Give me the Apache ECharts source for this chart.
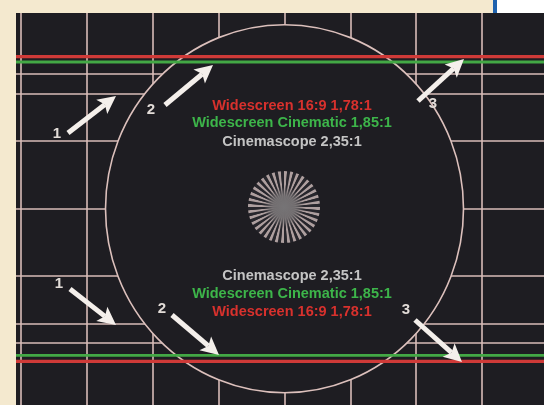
<!DOCTYPE html>
<html><head><meta charset="utf-8">
<script src="https://cdn.jsdelivr.net/npm/echarts@6/dist/echarts.min.js"></script>
<style>html,body{margin:0;padding:0;background:#f4e9cf;}#c{width:544px;height:405px;}</style>
</head><body><div id="c"></div>
<script>
// ---- data (in picture units) ----
const verticalLines = [21, 87, 153, 219, 285, 351, 416, 482];
const horizontalLines = [74, 94, 141, 209, 276, 324, 343];
const redLines = [56.7, 361.3];
const greenLines = [62, 355.3];
const frameCircle = [284.5, 208.7, 179, 184]; // cx, cy, rx, ry
const starCenter = [284, 207];
const starRadius = 36;
const starSegments = [1,1,1,1,1,1,1,1,1,1,1,1,1,1,1,1,1,1,1,1,1,1,1,1,1,1,1,1,1,1,1,1,1,1,1,1,
                      1,1,1,1,1,1,1,1,1,1,1,1,1,1,1,1,1,1,1,1,1,1,1,1,1,1,1,1,1,1,1,1,1,1,1,1];
const captionTexts = ['Widescreen 16:9 1,78:1', 'Widescreen Cinematic 1,85:1', 'Cinemascope 2,35:1',
                      'Cinemascope 2,35:1', 'Widescreen Cinematic 1,85:1', 'Widescreen 16:9 1,78:1'];
const captionX = [292, 292, 292, 292, 292, 292];
const captionY = [105.5, 123.3, 141.7, 275.5, 293.5, 311.5];
const captionColors = ['#d8312d', '#3db54a', '#c4c4c4', '#c4c4c4', '#3db54a', '#d8312d'];
const arrowLabels = ['1', '2', '3', '1', '2', '3'];
const arrowLabelX = [57, 151, 433, 59, 162, 406];
const arrowLabelY = [134, 110, 104, 284, 309, 310];
const arrowTailX = [68, 165, 418, 70, 172, 415];
const arrowTailY = [133, 105, 101, 289, 315, 320];
const arrowHeadX = [116, 213, 464, 116, 219, 462];
const arrowHeadY = [96, 65, 59, 325, 355, 362];

const X0 = 16, X1 = 544, Y0 = 13, Y1 = 405;
const chart = echarts.init(document.getElementById('c'), null, {renderer: 'canvas'});

function segRender(color, width, vertical) {
  return function (params, api) {
    const v = api.value(0);
    const a = vertical ? api.coord([v, Y0]) : api.coord([X0, v]);
    const b = vertical ? api.coord([v, Y1]) : api.coord([X1, v]);
    return {type: 'line', shape: {x1: a[0], y1: a[1], x2: b[0], y2: b[1]},
            style: {stroke: color, lineWidth: width}};
  };
}
const gridColor = '#d8bcb8';

const option = {
  animation: false,
  backgroundColor: '#f4e9cf',
  grid: {left: X0, top: Y0, right: 0, bottom: 0, show: true, backgroundColor: '#1e1d22', borderWidth: 0},
  xAxis: {type: 'value', min: X0, max: X1, show: false},
  yAxis: {type: 'value', min: Y0, max: Y1, inverse: true, show: false},
  graphic: [
    {type: 'rect', shape: {x: 493, y: 0, width: 4, height: 13}, style: {fill: '#1f62ad'}},
    {type: 'rect', shape: {x: 497, y: 0, width: 47, height: 13}, style: {fill: '#ffffff'}}
  ],
  series: [
    {type: 'custom', silent: true, z: 1, data: verticalLines.map(v => [v, 0]),
     renderItem: segRender(gridColor, 1.6, true)},
    {type: 'custom', silent: true, z: 1, data: horizontalLines.map(v => [v, 0]),
     renderItem: segRender(gridColor, 1.6, false)},
    {type: 'custom', silent: true, z: 2, data: [frameCircle],
     renderItem: function (params, api) {
       const c = api.coord([api.value(0), api.value(1)]);
       const s = api.size([api.value(2), api.value(3)]);
       return {type: 'circle', x: c[0], y: c[1], scaleY: s[1] / s[0],
               shape: {cx: 0, cy: 0, r: s[0]},
               style: {fill: '#1e1d22', stroke: '#dcc0bc', lineWidth: 1.6, strokeNoScale: true}};
     }},
    {type: 'custom', silent: true, z: 3, data: redLines.map(v => [v, 0]),
     renderItem: segRender('#cf3a38', 3.2, false)},
    {type: 'custom', silent: true, z: 3, data: greenLines.map(v => [v, 0]),
     renderItem: segRender('#43a845', 2.8, false)},
    {type: 'custom', silent: true, z: 4, data: starSegments.map((v, i) => [i, v]),
     renderItem: function (params, api) {
       const c = api.coord(starCenter);
       const r = api.size([starRadius, 0])[0];
       const n = starSegments.length;
       const i = params.dataIndex;
       const step = Math.PI * 2 / n;
       return {type: 'sector', shape: {cx: c[0], cy: c[1], r0: 0, r: r,
               startAngle: i * step, endAngle: (i + 1) * step},
               style: {fill: i % 2 === 0 ? '#ae9f9f' : '#27262c'}};
     }},
    {type: 'custom', silent: true, z: 5, data: [[starCenter[0], starCenter[1]]],
     renderItem: function (params, api) {
       const c = api.coord([api.value(0), api.value(1)]);
       return {type: 'circle', shape: {cx: c[0], cy: c[1], r: 20},
               style: {fill: new echarts.graphic.RadialGradient(0.5, 0.5, 0.5, [
                 {offset: 0, color: 'rgba(118,116,118,1)'},
                 {offset: 0.55, color: 'rgba(116,112,114,0.95)'},
                 {offset: 1, color: 'rgba(116,112,114,0)'}])}};
     }},
    {type: 'custom', silent: true, z: 6,
     data: captionTexts.map((t, i) => [captionX[i], captionY[i], i]),
     renderItem: function (params, api) {
       const c = api.coord([api.value(0), api.value(1)]);
       const i = params.dataIndex;
       return {type: 'text', x: c[0], y: c[1],
               style: {text: captionTexts[i], fill: captionColors[i], align: 'center', verticalAlign: 'middle',
                       font: 'bold 14.5px "Liberation Sans", Arial, sans-serif'}};
     }},
    {type: 'custom', silent: true, z: 6,
     data: arrowLabels.map((t, i) => [arrowLabelX[i], arrowLabelY[i]]),
     renderItem: function (params, api) {
       const c = api.coord([api.value(0), api.value(1)]);
       return {type: 'text', x: c[0], y: c[1],
               style: {text: arrowLabels[params.dataIndex], fill: '#e2dcd8', align: 'center', verticalAlign: 'middle',
                       font: 'bold 15px "Liberation Sans", Arial, sans-serif'}};
     }},
    {type: 'custom', silent: true, z: 7,
     data: arrowTailX.map((v, i) => [arrowTailX[i], arrowTailY[i], arrowHeadX[i], arrowHeadY[i]]),
     renderItem: function (params, api) {
       const t = api.coord([api.value(0), api.value(1)]);
       const h = api.coord([api.value(2), api.value(3)]);
       const dx = h[0] - t[0], dy = h[1] - t[1], len = Math.hypot(dx, dy);
       const ux = dx / len, uy = dy / len, nx = -uy, ny = ux;
       const HL = 18, HW = 9;
       const bx = h[0] - ux * HL, by = h[1] - uy * HL;
       const cx = h[0] - ux * (HL - 4), cy = h[1] - uy * (HL - 4);
       const col = '#f4efeb';
       return {type: 'group', children: [
         {type: 'line', shape: {x1: t[0], y1: t[1], x2: cx, y2: cy}, style: {stroke: col, lineWidth: 5}},
         {type: 'polygon', shape: {points: [[h[0], h[1]], [bx + nx * HW, by + ny * HW], [cx, cy], [bx - nx * HW, by - ny * HW]]},
          style: {fill: col}}
       ]};
     }}
  ]
};
chart.setOption(option);
</script></body></html>
